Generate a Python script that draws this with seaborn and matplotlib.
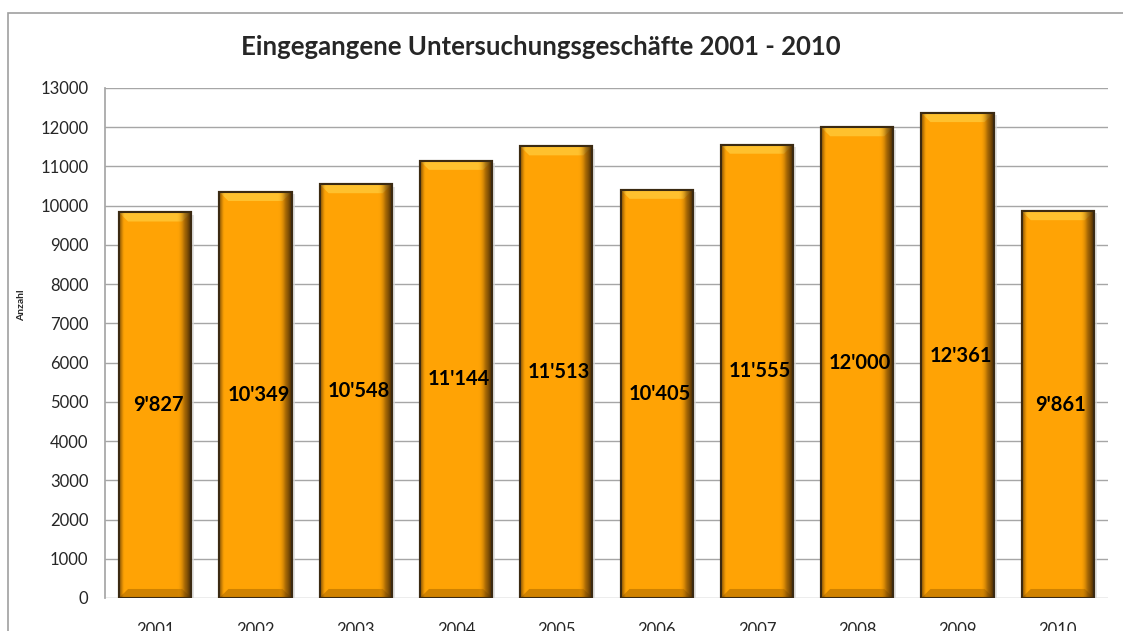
import numpy as np
import seaborn as sns
import matplotlib.pyplot as plt
from matplotlib.patches import Rectangle, Polygon
from matplotlib.colors import LinearSegmentedColormap

# data
years = ['2001', '2002', '2003', '2004', '2005', '2006', '2007', '2008', '2009', '2010']
counts = [9827, 10349, 10548, 11144, 11513, 10405, 11555, 12000, 12361, 9861]
yticks = list(range(0, 14000, 1000))
title = 'Eingegangene Untersuchungsgeschäfte 2001 - 2010'

orange = '#FFA305'
edge = '#3b2a12'

sns.set_theme(style='white')
plt.rcParams['font.family'] = ['Lato', 'DejaVu Sans']

W, H = 1123, 631
fig = plt.figure(figsize=(W / 100, H / 100), dpi=100)
ax = fig.add_axes([105 / W, 1 - 598 / H, (1108 - 105) / W, (598 - 88) / H])

sns.barplot(x=years, y=counts, color=orange, saturation=1, width=0.72,
            edgecolor=edge, linewidth=1.5, ax=ax, zorder=3)

# fake the bevelled Excel look on top of each bar
dark = LinearSegmentedColormap.from_list('d', [(1, 0.64, 0.02, 0), (0.45, 0.27, 0.02, 0.6),
                                               (0.2, 0.12, 0.02, 1)])
grad = np.linspace(0, 1, 64).reshape(1, -1)
for p in list(ax.patches):
    x0, w, h = p.get_x(), p.get_width(), p.get_height()
    bw, bh = 0.09, 230
    # soft shadow right of the bar
    ax.add_patch(Rectangle((x0 + w, 0), 0.03, h - 60, facecolor='#D8D8D8', edgecolor='none',
                           alpha=0.7, zorder=2.5))
    ax.add_patch(Polygon([(x0, h), (x0 + w, h), (x0 + w - bw, h - bh), (x0 + bw, h - bh)],
                         closed=True, facecolor='#FFC12E', edgecolor='none', zorder=4))
    ax.add_patch(Polygon([(x0, 0), (x0 + w, 0), (x0 + w - bw, bh), (x0 + bw, bh)],
                         closed=True, facecolor='#D08200', edgecolor='none', zorder=4))
    im = ax.imshow(grad, extent=[x0 + w - 0.14, x0 + w, 0, h], cmap=dark,
                   aspect='auto', zorder=4.5, interpolation='bilinear')
    im.set_clip_path(p)
    im2 = ax.imshow(grad[:, ::-1], extent=[x0, x0 + 0.05, 0, h], cmap=dark,
                    aspect='auto', zorder=4.5, alpha=0.6, interpolation='bilinear')
    im2.set_clip_path(p)
    # redraw the outline on top
    ax.add_patch(Rectangle((x0, 0), w, h, fill=False, edgecolor=edge, lw=1.5, zorder=5))
    ax.text(x0 + w / 2 + 0.03, h / 2, f"{h:,.0f}".replace(',', "'"), ha='center', va='center',
            fontsize=14.5, fontweight='bold', color='black', zorder=6)

ax.set_xlim(-0.5, 9.5)
ax.set_ylim(0, 13000)
ax.set_yticks(yticks)
ax.set_yticklabels([str(t) for t in yticks], fontsize=12)
ax.set_xticks(range(len(years)))
ax.set_xticklabels(years, fontsize=12)
ax.tick_params(axis='y', length=0, pad=12)
ax.tick_params(axis='x', length=0, pad=17)
ax.yaxis.grid(True, color='#A6A6A6', lw=1)
ax.set_axisbelow(True)
for s in ['top', 'right', 'bottom']:
    ax.spines[s].set_visible(False)
ax.spines['left'].set_color('#A6A6A6')
ax.set_xlabel('')
ax.set_ylabel('')

fig.text(22 / W, 1 - 305 / H, 'Anzahl', rotation=90, fontsize=7.5, fontweight='bold',
         ha='center', va='center')
fig.text(541 / W, 1 - 47 / H, title, fontsize=18.5, fontweight='bold', ha='center', va='center')

# outer chart frame, cut at right and bottom like the screenshot
fig.add_artist(Rectangle((8 / W, -0.5), 2, 1 - 13 / H + 0.5, transform=fig.transFigure,
                         fill=False, edgecolor='#A0A0A0', lw=1.2))

fig.savefig('out.png', dpi=100)
